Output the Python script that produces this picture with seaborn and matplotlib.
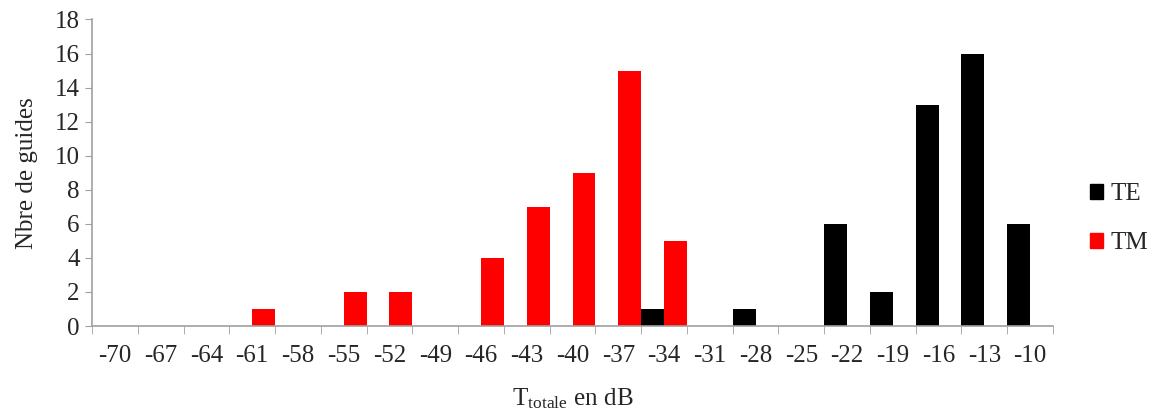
import numpy as np
import pandas as pd
import seaborn as sns
import matplotlib.pyplot as plt
from matplotlib.patches import Patch

# bin labels (dB) and counts per polarisation
bins = [-70, -67, -64, -61, -58, -55, -52, -49, -46, -43, -40,
        -37, -34, -31, -28, -25, -22, -19, -16, -13, -10]
te_counts = [0, 0, 0, 0, 0, 0, 0, 0, 0, 0, 0,
             0, 1, 0, 1, 0, 6, 2, 13, 16, 6]
tm_counts = [0, 0, 0, 1, 0, 2, 2, 0, 4, 7, 9,
             15, 5, 0, 0, 0, 0, 0, 0, 0, 0]

labels = [str(b) for b in bins]
df = pd.DataFrame({
    "bin": labels * 2,
    "count": te_counts + tm_counts,
    "mode": ["TE"] * len(bins) + ["TM"] * len(bins),
})

sns.set_style("white")
plt.rcParams["font.family"] = ["Liberation Serif", "DejaVu Serif"]
plt.rcParams["mathtext.fontset"] = "stix"

fig = plt.figure(figsize=(11.62, 4.12), dpi=100)
ax = fig.add_axes([0.0792, 0.2087, 0.827, 0.744])

palette = {"TE": "black", "TM": "#ff0000"}
sns.barplot(data=df, x="bin", y="count", hue="mode", order=labels,
            palette=palette, width=1.0, dodge=True, linewidth=0,
            saturation=1, ax=ax, legend=False)

grey = "#a0a0a0"
fs = 18
ax.set_xlim(-0.5, len(bins) - 0.5)
ax.set_ylim(0, 18)
ax.set_yticks(range(0, 19, 2))
ax.tick_params(axis="y", labelsize=fs, length=5, color=grey, direction="out", left=True, pad=4)
ax.tick_params(axis="x", which="major", labelsize=fs, length=0, pad=14)
ax.set_xticks(np.arange(-0.5, len(bins)), minor=True)
ax.tick_params(axis="x", which="minor", length=6, color=grey, direction="out", bottom=True)

for s in ["top", "right"]:
    ax.spines[s].set_visible(False)
for s in ["left", "bottom"]:
    ax.spines[s].set_color(grey)
    ax.spines[s].set_linewidth(1.2)

ax.set_ylabel("Nbre de guides", fontsize=fs, labelpad=12)
ax.set_xlabel(r"T$_{\mathregular{totale}}$ en dB", fontsize=fs, labelpad=14)

handles = [Patch(color="black", label="TE"), Patch(color="#ff0000", label="TM")]
ax.legend(handles=handles, loc="center left", bbox_to_anchor=(1.02, 0.35),
          frameon=False, fontsize=fs, handlelength=0.55, handleheight=0.55,
          handletextpad=0.3, labelspacing=1.1, borderpad=0.2)

fig.savefig("out.png", dpi=100)
